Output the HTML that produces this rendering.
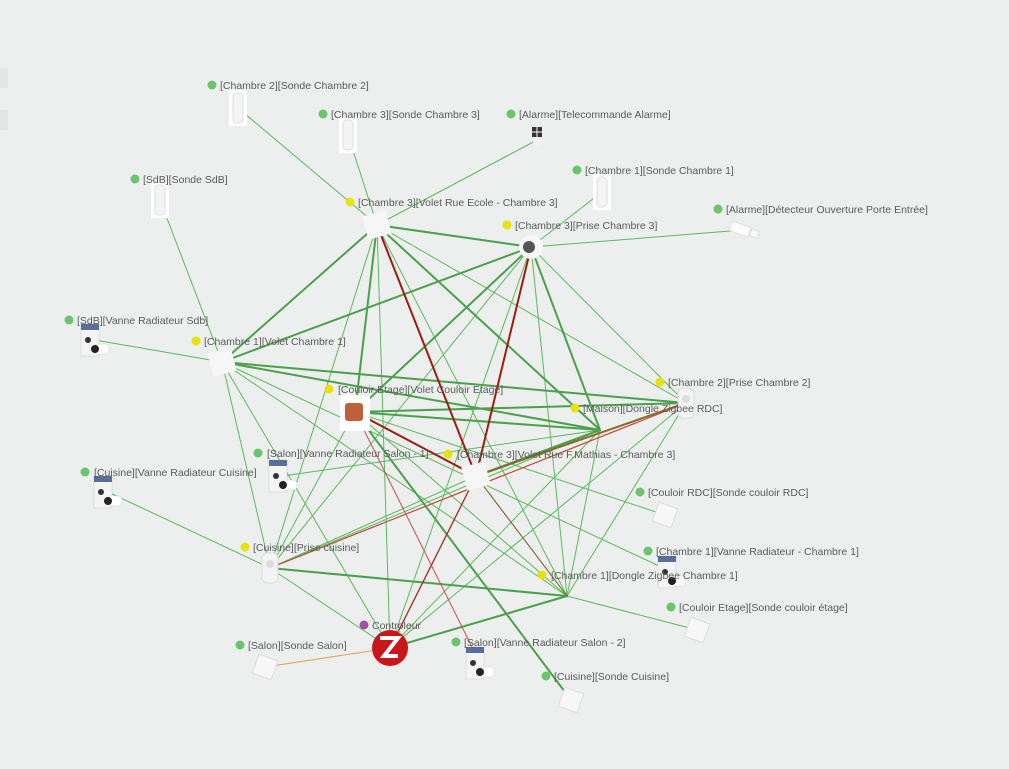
<!DOCTYPE html>
<html><head><meta charset="utf-8"><style>
html,body{margin:0;padding:0;background:#edefee;}
svg{display:block;}
text{font-family:"Liberation Sans",sans-serif;font-size:10.5px;fill:#5a5a5a;}
</style></head><body>
<svg width="1009" height="769" viewBox="0 0 1009 769" xmlns="http://www.w3.org/2000/svg">
<rect width="1009" height="769" fill="#edefee"/>
<rect x="0" y="68" width="8" height="20" fill="#e4e6e5"/>
<rect x="0" y="110" width="8" height="20" fill="#e4e6e5"/>
<g stroke-linecap="round">
<g stroke="#5cb85c" stroke-width="1">
<line x1="238" y1="108" x2="377" y2="225"/>
<line x1="348" y1="135" x2="377" y2="225"/>
<line x1="537" y1="140" x2="377" y2="225"/>
<line x1="160" y1="200" x2="222" y2="362"/>
<line x1="602" y1="192" x2="531" y2="247"/>
<line x1="743" y1="230" x2="531" y2="247"/>
<line x1="95" y1="340" x2="222" y2="362"/>
<line x1="108" y1="492" x2="270" y2="568"/>
<line x1="665" y1="515" x2="355" y2="412"/>
<line x1="672" y1="572" x2="222" y2="362"/>
<line x1="697" y1="630" x2="567" y2="596"/>
<line x1="377" y1="225" x2="270" y2="568"/>
<line x1="377" y1="225" x2="567" y2="596"/>
<line x1="377" y1="225" x2="390" y2="648"/>
<line x1="377" y1="225" x2="686" y2="403"/>
<line x1="531" y1="247" x2="270" y2="568"/>
<line x1="531" y1="247" x2="567" y2="596"/>
<line x1="531" y1="247" x2="390" y2="648"/>
<line x1="531" y1="247" x2="686" y2="403"/>
<line x1="222" y1="362" x2="270" y2="568"/>
<line x1="222" y1="362" x2="390" y2="648"/>
<line x1="222" y1="362" x2="567" y2="596"/>
<line x1="355" y1="412" x2="270" y2="568"/>
<line x1="355" y1="412" x2="567" y2="596"/>
<line x1="600" y1="430" x2="270" y2="568"/>
<line x1="600" y1="430" x2="390" y2="648"/>
<line x1="600" y1="430" x2="567" y2="596"/>
<line x1="686" y1="403" x2="390" y2="648"/>
<line x1="686" y1="403" x2="567" y2="596"/>
<line x1="476" y1="476" x2="270" y2="568"/>
<line x1="476" y1="476" x2="567" y2="596"/>
<line x1="270" y1="568" x2="567" y2="596"/>
<line x1="270" y1="568" x2="390" y2="648"/>
<line x1="283" y1="476" x2="600" y2="430"/>
</g>
<g stroke="#4ba04b" stroke-width="2">
<line x1="377" y1="225" x2="531" y2="247"/>
<line x1="377" y1="225" x2="222" y2="362"/>
<line x1="377" y1="225" x2="600" y2="430"/>
<line x1="377" y1="225" x2="355" y2="412"/>
<line x1="531" y1="247" x2="222" y2="362"/>
<line x1="531" y1="247" x2="355" y2="412"/>
<line x1="531" y1="247" x2="600" y2="430"/>
<line x1="222" y1="362" x2="600" y2="430"/>
<line x1="222" y1="362" x2="686" y2="403"/>
<line x1="355" y1="412" x2="600" y2="430"/>
<line x1="355" y1="412" x2="686" y2="403"/>
<line x1="476" y1="476" x2="600" y2="430"/>
<line x1="355" y1="412" x2="571" y2="700"/>
<line x1="390" y1="648" x2="567" y2="596"/>
<line x1="270" y1="568" x2="567" y2="596"/>
</g>
<g stroke="#9b1c10" stroke-width="2">
<line x1="377" y1="225" x2="476" y2="476"/>
<line x1="531" y1="247" x2="476" y2="476"/>
<line x1="355" y1="412" x2="476" y2="476"/>
</g>
<line x1="476" y1="476" x2="390" y2="648" stroke="#a02a1a" stroke-width="1.3"/>
<line x1="476" y1="476" x2="686" y2="403" stroke="#8a6a2a" stroke-width="2"/>
<line x1="270" y1="568" x2="686" y2="403" stroke="#c0493a" stroke-width="1.2"/>
<line x1="355" y1="412" x2="480" y2="663" stroke="#d04a4a" stroke-width="1"/>
<line x1="476" y1="476" x2="567" y2="596" stroke="#8a5a2a" stroke-width="1"/>
<line x1="265" y1="667" x2="390" y2="648" stroke="#e0a050" stroke-width="1"/>
</g>
<defs>
<g id="sensor"><rect x="-9" y="-18" width="18" height="36" fill="#fff"/><rect x="-5" y="-15" width="10" height="30" rx="4" fill="#f4f4f4" stroke="#ddd"/></g>
<g id="vanne"><rect x="-14" y="-16" width="18" height="32" fill="#f4f4f4" stroke="#ccc" stroke-width=".5"/><rect x="-14" y="-16" width="18" height="6" fill="#5a6e9a"/><rect x="-2" y="4" width="16" height="10" rx="4" fill="#fff" stroke="#ccc" stroke-width=".5"/><circle cx="0" cy="9" r="4" fill="#222"/><circle cx="-7" cy="0" r="3" fill="#333"/></g>
<g id="cube"><rect x="-10" y="-10" width="20" height="20" fill="#f7f7f7" stroke="#ddd" transform="rotate(20)"/></g>
<g id="sq"><rect x="-12" y="-12" width="24" height="24" fill="#f6f6f6" transform="rotate(-15)"/></g>
</defs>
<use href="#sensor" x="238" y="108"/>
<use href="#sensor" x="348" y="135"/>
<use href="#sensor" x="160" y="200"/>
<use href="#sensor" x="602" y="192"/>
<g><rect x="532" y="127" width="10" height="10" fill="#333"/><line x1="537" y1="127" x2="537" y2="137" stroke="#fff"/><line x1="532" y1="132" x2="542" y2="132" stroke="#fff"/><rect x="533" y="138" width="8" height="8" fill="#f2f2f2"/></g>
<g transform="translate(743,230) rotate(20)"><rect x="-13" y="-5" width="20" height="10" fill="#fbfbfb" stroke="#ddd"/><rect x="8" y="-4" width="8" height="7" fill="#fbfbfb" stroke="#ddd"/></g>
<use href="#sq" x="377" y="225"/>
<use href="#sq" x="222" y="362"/>
<use href="#sq" x="476" y="476"/>
<circle cx="531" cy="247" r="12" fill="#f6f6f6"/><circle cx="529" cy="247" r="6" fill="#555"/>
<g><rect x="340" y="395" width="30" height="36" fill="#fff"/><rect x="345" y="403" width="18" height="18" rx="3" fill="#c0603a"/></g>
<g><rect x="678" y="388" width="16" height="30" rx="5" fill="#f4f4f4" stroke="#ddd"/><circle cx="686" cy="399" r="4" fill="#ddd"/></g>
<g><rect x="262" y="553" width="16" height="30" rx="5" fill="#f4f4f4" stroke="#ddd"/><circle cx="270" cy="564" r="4" fill="#ddd"/></g>
<use href="#vanne" x="95" y="340"/>
<use href="#vanne" x="108" y="492"/>
<use href="#vanne" x="283" y="476"/>
<use href="#vanne" x="672" y="572"/>
<use href="#vanne" x="480" y="663"/>
<use href="#cube" x="665" y="515"/>
<use href="#cube" x="697" y="630"/>
<use href="#cube" x="265" y="667"/>
<use href="#cube" x="571" y="700"/>
<g><circle cx="390" cy="648" r="18" fill="#c8161b"/><path d="M380 638 h18 l-14 18 h14" stroke="#fff" stroke-width="4" fill="none"/></g>
<g>
<circle cx="212" cy="85" r="4.5" fill="#6cc46c"/><text x="220" y="89">[Chambre 2][Sonde Chambre 2]</text>
<circle cx="323" cy="114" r="4.5" fill="#6cc46c"/><text x="331" y="118">[Chambre 3][Sonde Chambre 3]</text>
<circle cx="511" cy="114" r="4.5" fill="#6cc46c"/><text x="519" y="118">[Alarme][Telecommande Alarme]</text>
<circle cx="135" cy="179" r="4.5" fill="#6cc46c"/><text x="143" y="183">[SdB][Sonde SdB]</text>
<circle cx="577" cy="170" r="4.5" fill="#6cc46c"/><text x="585" y="174">[Chambre 1][Sonde Chambre 1]</text>
<circle cx="718" cy="209" r="4.5" fill="#6cc46c"/><text x="726" y="213">[Alarme][Détecteur Ouverture Porte Entrée]</text>
<circle cx="350" cy="202" r="4.5" fill="#e6e20a"/><text x="358" y="206">[Chambre 3][Volet Rue Ecole - Chambre 3]</text>
<circle cx="507" cy="225" r="4.5" fill="#e6e20a"/><text x="515" y="229">[Chambre 3][Prise Chambre 3]</text>
<circle cx="69" cy="320" r="4.5" fill="#6cc46c"/><text x="77" y="324">[SdB][Vanne Radiateur Sdb]</text>
<circle cx="196" cy="341" r="4.5" fill="#e6e20a"/><text x="204" y="345">[Chambre 1][Volet Chambre 1]</text>
<circle cx="329" cy="389" r="4.5" fill="#e6e20a"/><text x="338" y="393">[Couloir Etage][Volet Couloir Etage]</text>
<circle cx="660" cy="382" r="4.5" fill="#e6e20a"/><text x="668" y="386">[Chambre 2][Prise Chambre 2]</text>
<circle cx="575" cy="408" r="4.5" fill="#e6e20a"/><text x="583" y="412">[Maison][Dongle Zigbee RDC]</text>
<circle cx="258" cy="453" r="4.5" fill="#6cc46c"/><text x="267" y="457">[Salon][Vanne Radiateur Salon - 1]</text>
<circle cx="448" cy="454" r="4.5" fill="#e6e20a"/><text x="457" y="458">[Chambre 3][Volet Rue F.Mathias - Chambre 3]</text>
<circle cx="85" cy="472" r="4.5" fill="#6cc46c"/><text x="94" y="476">[Cuisine][Vanne Radiateur Cuisine]</text>
<circle cx="640" cy="492" r="4.5" fill="#6cc46c"/><text x="648" y="496">[Couloir RDC][Sonde couloir RDC]</text>
<circle cx="245" cy="547" r="4.5" fill="#e6e20a"/><text x="253" y="551">[Cuisine][Prise cuisine]</text>
<circle cx="648" cy="551" r="4.5" fill="#6cc46c"/><text x="656" y="555">[Chambre 1][Vanne Radiateur - Chambre 1]</text>
<circle cx="542" cy="575" r="4.5" fill="#e6e20a"/><text x="551" y="579">[Chambre 1][Dongle Zigbee Chambre 1]</text>
<circle cx="671" cy="607" r="4.5" fill="#6cc46c"/><text x="679" y="611">[Couloir Etage][Sonde couloir étage]</text>
<circle cx="364" cy="625" r="4.5" fill="#a352a3"/><text x="372" y="629">Controleur</text>
<circle cx="240" cy="645" r="4.5" fill="#6cc46c"/><text x="248" y="649">[Salon][Sonde Salon]</text>
<circle cx="456" cy="642" r="4.5" fill="#6cc46c"/><text x="464" y="646">[Salon][Vanne Radiateur Salon - 2]</text>
<circle cx="546" cy="676" r="4.5" fill="#6cc46c"/><text x="554" y="680">[Cuisine][Sonde Cuisine]</text>
</g>
</svg>
</body></html>
